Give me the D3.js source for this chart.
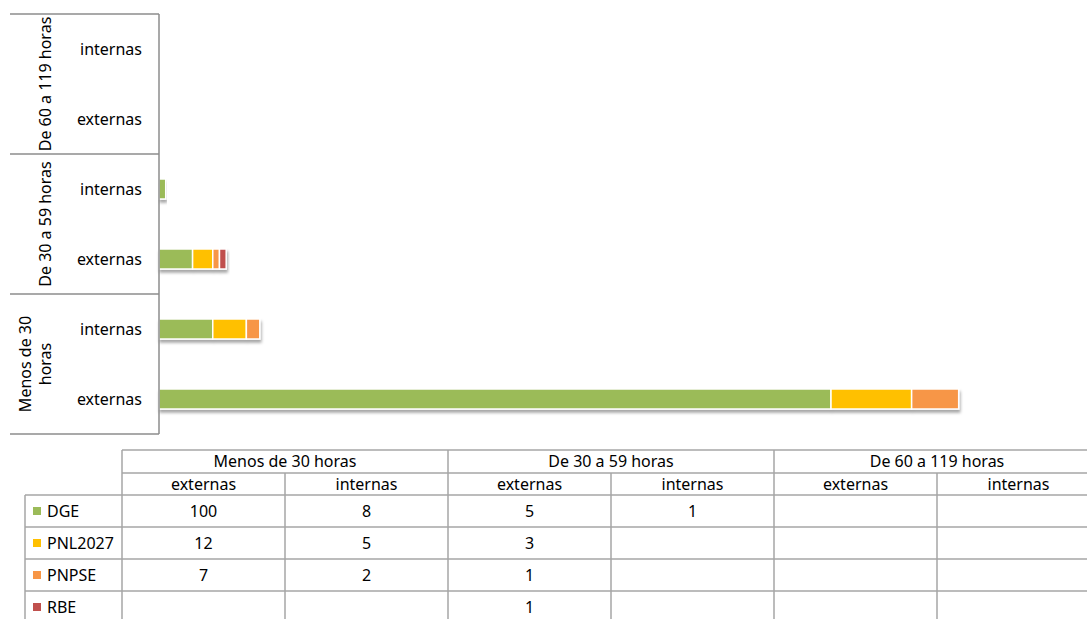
<!DOCTYPE html>
<html>
<head>
<meta charset="utf-8">
<script src="https://cdn.jsdelivr.net/npm/d3@7"></script>
<style>
  body { margin: 0; background: #fff; }
  svg { display: block; font-family: "Noto Sans", Lato, sans-serif; }
</style>
</head>
<body>
<div id="chart"></div>
<script>
// Categories (bottom to top in the chart, left to right in the table)
var groups = ["Menos de 30 horas", "De 30 a 59 horas", "De 60 a 119 horas"];
var subs = ["externas", "internas"];

// Series values, one per group/sub pair, in the order above
var seriesNames = ["DGE", "PNL2027", "PNPSE", "RBE"];
var dge     = [100, 8, 5, 1, null, null];
var pnl2027 = [12, 5, 3, null, null, null];
var pnpse   = [7, 2, 1, null, null, null];
var rbe     = [null, null, 1, null, null, null];

var colors = ["#9BBB59", "#FFC000", "#F79646", "#C0504D"];

// Build rows
var rows = [];
groups.forEach(function(g, gi) {
    subs.forEach(function(s, si) {
        rows.push({ key: g + "|" + s, group: g, sub: s, i: gi * 2 + si });
    });
});
var seriesValues = [dge, pnl2027, pnpse, rbe];

var width = 1087, height = 619;
var fs = 16;
var svg = d3.select("#chart").append("svg")
    .attr("width", width)
    .attr("height", height);

// Drop shadow for bars
var defs = svg.append("defs");
var filter = defs.append("filter").attr("id", "shadow")
    .attr("x", "-5%").attr("y", "-30%").attr("width", "110%").attr("height", "180%");
filter.append("feDropShadow")
    .attr("dx", 1).attr("dy", 3).attr("stdDeviation", 1.8)
    .attr("flood-color", "#000").attr("flood-opacity", 0.35);

// Scales
var x0 = 159;
var x = d3.scaleLinear().domain([0, 100]).range([x0, 831]);

// top-to-bottom order is reversed
var y = d3.scaleBand()
    .domain(rows.map(function(r) { return r.key; }).reverse())
    .range([14, 434])
    .paddingInner(0.714)
    .paddingOuter(0.357);

var lineColor = "#8c8c8c";

// Stacked bars
var stackData = rows.map(function(r) {
    var o = { key: r.key };
    seriesNames.forEach(function(n, k) { o[n] = seriesValues[k][r.i] || 0; });
    return o;
});
var stack = d3.stack().keys(seriesNames)(stackData);

var barG = svg.append("g");
rows.forEach(function(r, ri) {
    var segs = stack.map(function(layer, k) {
        return { k: k, v0: layer[ri][0], v1: layer[ri][1] };
    }).filter(function(d) { return d.v1 > d.v0; });
    if (!segs.length) return;
    var rg = barG.append("g").attr("filter", "url(#shadow)");
    rg.selectAll("rect").data(segs).enter().append("rect")
        .attr("x", function(d) { return x(d.v0); })
        .attr("y", y(r.key))
        .attr("width", function(d) { return x(d.v1) - x(d.v0); })
        .attr("height", y.bandwidth())
        .attr("fill", function(d) { return colors[d.k]; })
        .attr("stroke", "#fff")
        .attr("stroke-width", 1.5);
});

// Axis (category side)
var axisG = svg.append("g");
axisG.append("line")
    .attr("x1", x0).attr("x2", x0)
    .attr("y1", 14).attr("y2", 434)
    .attr("stroke", lineColor).attr("stroke-width", 1.5);

var gap = (y.step() - y.bandwidth()) / 2;
var groupBounds = groups.map(function(g) {
    return { group: g, y0: y(g + "|internas") - gap, y1: y(g + "|externas") + y.bandwidth() + gap };
});

// Horizontal separators
var seps = [14];
groupBounds.forEach(function(b) { seps.push(b.y1); });
axisG.selectAll("line.sep").data(seps).enter().append("line")
    .attr("class", "sep")
    .attr("x1", 10).attr("x2", x0)
    .attr("y1", function(d) { return d; }).attr("y2", function(d) { return d; })
    .attr("stroke", lineColor).attr("stroke-width", 1.5);

// Sub labels
axisG.selectAll("text.sub").data(rows).enter().append("text")
    .attr("class", "sub")
    .attr("x", 142)
    .attr("y", function(r) { return y(r.key) + y.bandwidth() / 2; })
    .attr("dy", "0.35em")
    .attr("text-anchor", "end")
    .attr("font-size", fs)
    .attr("fill", "#000")
    .text(function(r) { return r.sub; });

// Group labels, rotated
groupBounds.forEach(function(b) {
    var cy = (b.y0 + b.y1) / 2;
    var lines = b.group === "Menos de 30 horas" ? ["Menos de 30", "horas"] : [b.group];
    var t = axisG.append("text")
        .attr("transform", "translate(" + (lines.length > 1 ? 25 : 45) + "," + cy + ") rotate(-90)")
        .attr("text-anchor", "middle")
        .attr("font-size", fs)
        .attr("fill", "#000");
    lines.forEach(function(l, li) {
        t.append("tspan").attr("x", 0).attr("dy", li === 0 ? "0.35em" : "1.25em").text(l);
    });
});

// Data table
var tableLeft = 122, colW = 163, legendLeft = 25;
var colKeys = rows.map(function(r) { return r.key; });
var tx = d3.scaleBand().domain(colKeys).range([tableLeft, tableLeft + colW * colKeys.length]);

var hdr1Top = 450, hdr2Top = 473, dataTop = 495, rowH = 32;
var tableG = svg.append("g");
var tStroke = "#a6a6a6";

function hline(x1, x2, yy) {
    tableG.append("line").attr("x1", x1).attr("x2", x2).attr("y1", yy).attr("y2", yy)
        .attr("stroke", tStroke).attr("stroke-width", 1.5);
}
function vline(xx, y1, y2) {
    tableG.append("line").attr("x1", xx).attr("x2", xx).attr("y1", y1).attr("y2", y2)
        .attr("stroke", tStroke).attr("stroke-width", 1.5);
}

var tableRight = tx.range()[1];
var bottom = dataTop + rowH * seriesNames.length;
hline(tableLeft, tableRight, hdr1Top);
hline(tableLeft, tableRight, hdr2Top);
for (var k = 0; k <= seriesNames.length; k++) hline(legendLeft, tableRight, dataTop + rowH * k);
vline(legendLeft, dataTop, bottom);
vline(tableLeft, hdr1Top, bottom);
colKeys.forEach(function(c, ci) {
    var xx = tx(c) + colW;
    vline(xx, ci % 2 === 1 ? hdr1Top : hdr2Top, bottom);
});

// Group headers
groups.forEach(function(g) {
    var xs = tx(g + "|externas");
    tableG.append("text")
        .attr("x", xs + colW).attr("y", (hdr1Top + hdr2Top) / 2)
        .attr("dy", "0.35em").attr("text-anchor", "middle")
        .attr("font-size", fs).text(g);
});
// Sub headers
tableG.selectAll("text.sh").data(rows).enter().append("text")
    .attr("x", function(r) { return tx(r.key) + colW / 2; })
    .attr("y", (hdr2Top + dataTop) / 2)
    .attr("dy", "0.35em").attr("text-anchor", "middle")
    .attr("font-size", fs).text(function(r) { return r.sub; });

// Legend cells + values
seriesNames.forEach(function(n, k) {
    var cy = dataTop + rowH * k + rowH / 2;
    tableG.append("rect").attr("x", 33).attr("y", cy - 4).attr("width", 8).attr("height", 8)
        .attr("fill", colors[k]);
    tableG.append("text").attr("x", 47).attr("y", cy).attr("dy", "0.35em")
        .attr("font-size", fs).text(n);
    rows.forEach(function(r) {
        var v = seriesValues[k][r.i];
        if (v == null) return;
        tableG.append("text")
            .attr("x", tx(r.key) + colW / 2).attr("y", cy).attr("dy", "0.35em")
            .attr("text-anchor", "middle").attr("font-size", fs).text(v);
    });
});
</script>
</body>
</html>
